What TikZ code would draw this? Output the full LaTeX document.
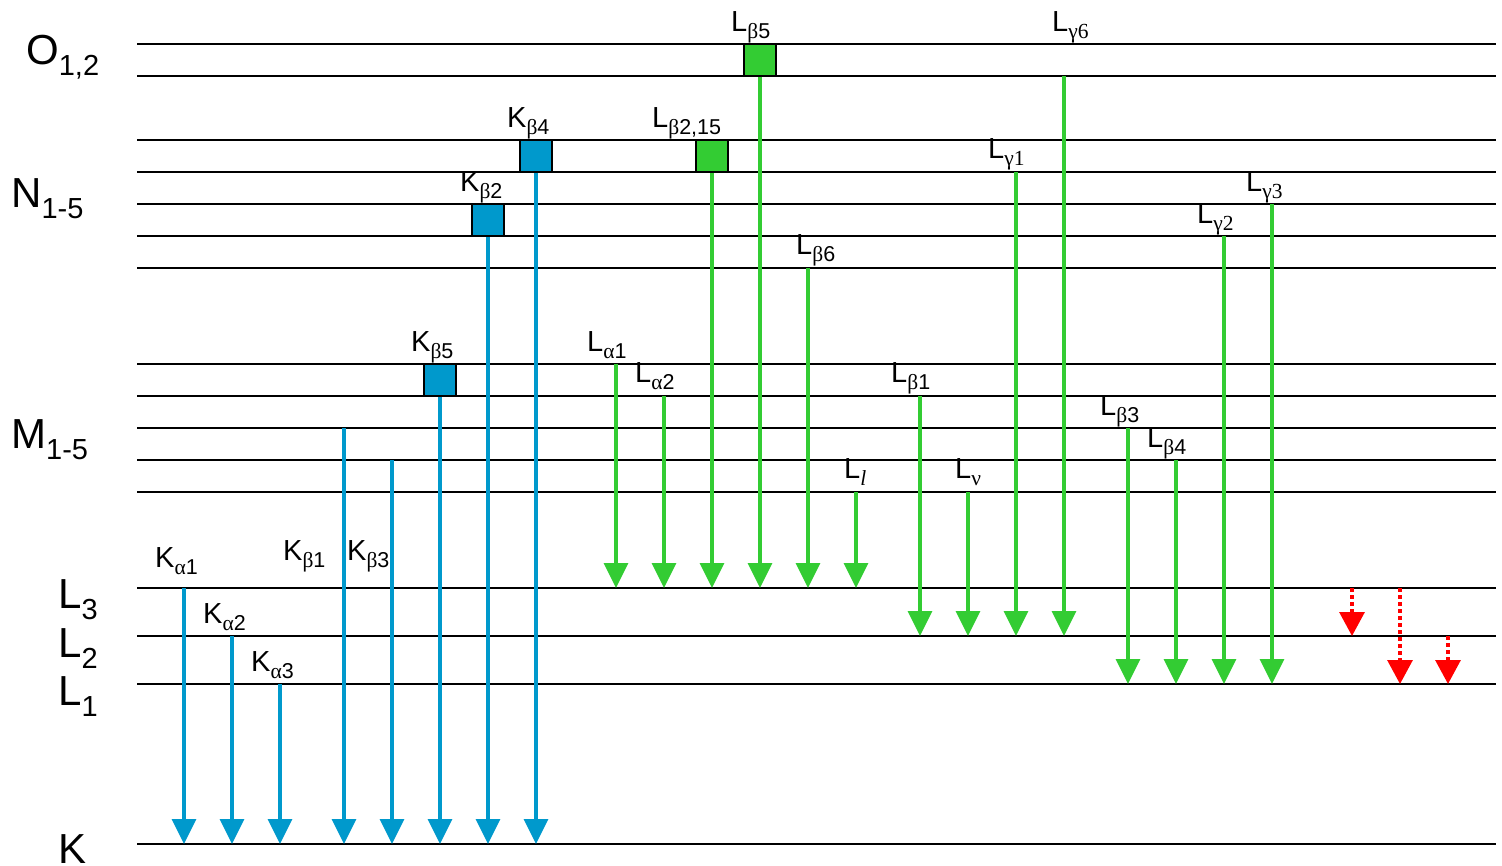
\documentclass[tikz,border=0pt]{standalone}
\usepackage{fontspec}
\setmainfont{Liberation Sans}
\newfontfamily\grk{Liberation Serif}
\usetikzlibrary{arrows.meta}
\definecolor{kblue}{RGB}{0,153,204}
\definecolor{lgreen}{RGB}{51,204,51}
\definecolor{xred}{RGB}{255,0,0}
\newcommand{\lvlab}[2]{{\fontsize{42}{42}\selectfont #1}\raisebox{-11pt}{\fontsize{29}{29}\selectfont #2}}
\newcommand{\xl}[2]{{\fontsize{29}{29}\selectfont #1}\raisebox{-7pt}{\fontsize{21.5}{21.5}\selectfont #2}}
\tikzset{
  level/.style={line width=2.8pt, black},
  lvtext/.style={anchor=base west, inner sep=0pt},
  lab/.style={anchor=base west, inner sep=0pt},
  sq/.style={draw=black, line width=1.8pt, minimum size=32pt, inner sep=0pt},
  karrow/.style={kblue, line width=3.4pt, -{Triangle[width=24pt,length=25pt]}},
  larrow/.style={lgreen, line width=3.4pt, -{Triangle[width=24pt,length=25pt]}},
  rarrow/.style={xred, line width=3.2pt, dash pattern=on 4pt off 3pt, -{Triangle[width=25pt,length=24pt]}},
}
\begin{document}
\begin{tikzpicture}[x=1pt,y=-1pt]
\useasboundingbox (0,0) rectangle (1502,866);
% energy levels
\foreach \yy in {44,76,140,172,204,236,268,364,396,428,460,492,588,636,684,844}
  \draw[level] (137,\yy) -- (1496,\yy);
% level labels
\node[lvtext] (tO) at (26,65) {\lvlab{O}{1,2}};
\node[lvtext] (tN) at (11,208) {\lvlab{N}{1-5}};
\node[lvtext] (tM) at (11,448) {\lvlab{M}{1-5}};
\node[lvtext] (tL3) at (58,608) {\lvlab{L}{3}};
\node[lvtext] (tL2) at (58,657) {\lvlab{L}{2}};
\node[lvtext] (tL1) at (58,705) {\lvlab{L}{1}};
\node[lvtext] (tK) at (58,863) {{\fontsize{42}{42}\selectfont K}};
% squares
\node[sq, fill=kblue] (bk5) at (440,380) {};
\node[sq, fill=kblue] (bk2) at (488,220) {};
\node[sq, fill=kblue] (bk4) at (536,156) {};
\node[sq, fill=lgreen] (bl215) at (712,156) {};
\node[sq, fill=lgreen] (bl5) at (760,60) {};
% coordinates: starts
\coordinate (ka1s) at (184,588);
\coordinate (ka2s) at (232,636);
\coordinate (ka3s) at (280,684);
\coordinate (kb1s) at (344,428);
\coordinate (kb3s) at (392,460);
\coordinate (la1s) at (616,364);
\coordinate (la2s) at (664,396);
\coordinate (lb6s) at (808,268);
\coordinate (lls) at (856,492);
\coordinate (lb1s) at (920,396);
\coordinate (lns) at (968,492);
\coordinate (lg1s) at (1016,172);
\coordinate (lg6s) at (1064,76);
\coordinate (lb3s) at (1128,428);
\coordinate (lb4s) at (1176,460);
\coordinate (lg2s) at (1224,236);
\coordinate (lg3s) at (1272,204);
\coordinate (r1s) at (1352,588);
\coordinate (r2s) at (1400,588);
\coordinate (r3s) at (1448,636);
% coordinates: ends
\coordinate (ka1e) at (184,844);
\coordinate (ka2e) at (232,844);
\coordinate (ka3e) at (280,844);
\coordinate (kb1e) at (344,844);
\coordinate (kb3e) at (392,844);
\coordinate (kb5e) at (440,844);
\coordinate (kb2e) at (488,844);
\coordinate (kb4e) at (536,844);
\coordinate (la1e) at (616,588);
\coordinate (la2e) at (664,588);
\coordinate (lb215e) at (712,588);
\coordinate (lb5e) at (760,588);
\coordinate (lb6e) at (808,588);
\coordinate (lle) at (856,588);
\coordinate (lb1e) at (920,636);
\coordinate (lne) at (968,636);
\coordinate (lg1e) at (1016,636);
\coordinate (lg6e) at (1064,636);
\coordinate (lb3e) at (1128,684);
\coordinate (lb4e) at (1176,684);
\coordinate (lg2e) at (1224,684);
\coordinate (lg3e) at (1272,684);
\coordinate (r1e) at (1352,636);
\coordinate (r2e) at (1400,684);
\coordinate (r3e) at (1448,684);
% K arrows
\draw[karrow] (ka1s) -- (ka1e);
\draw[karrow] (ka2s) -- (ka2e);
\draw[karrow] (ka3s) -- (ka3e);
\draw[karrow] (kb1s) -- (kb1e);
\draw[karrow] (kb3s) -- (kb3e);
\draw[karrow] (bk5.south) -- (kb5e);
\draw[karrow] (bk2.south) -- (kb2e);
\draw[karrow] (bk4.south) -- (kb4e);
% L arrows
\draw[larrow] (la1s) -- (la1e);
\draw[larrow] (la2s) -- (la2e);
\draw[larrow] (bl215.south) -- (lb215e);
\draw[larrow] (bl5.south) -- (lb5e);
\draw[larrow] (lb6s) -- (lb6e);
\draw[larrow] (lls) -- (lle);
\draw[larrow] (lb1s) -- (lb1e);
\draw[larrow] (lns) -- (lne);
\draw[larrow] (lg1s) -- (lg1e);
\draw[larrow] (lg6s) -- (lg6e);
\draw[larrow] (lb3s) -- (lb3e);
\draw[larrow] (lb4s) -- (lb4e);
\draw[larrow] (lg2s) -- (lg2e);
\draw[larrow] (lg3s) -- (lg3e);
% red dotted arrows
\draw[rarrow] (r1s) -- (r1e);
\draw[rarrow] (r2s) -- (r2e);
\draw[rarrow] (r3s) -- (r3e);
% labels
\node[lab] (tka1) at (155,567) {\xl{K}{{\grk α}1}};
\node[lab] (tka2) at (203,623) {\xl{K}{{\grk α}2}};
\node[lab] (tka3) at (251,671) {\xl{K}{{\grk α}3}};
\node[lab] (tkb1) at (283,560) {\xl{K}{{\grk β}1}};
\node[lab] (tkb3) at (347,560) {\xl{K}{{\grk β}3}};
\node[lab] (tkb5) at (411,352) {\xl{K}{{\grk β}5}};
\node[lab] (tkb2) at (460,192) {\xl{K}{{\grk β}2}};
\node[lab] (tkb4) at (507,128) {\xl{K}{{\grk β}4}};
\node[lab] (tlb215) at (652,128) {\xl{L}{{\grk β}2,15}};
\node[lab] (tlb5) at (731,32) {\xl{L}{{\grk β}5}};
\node[lab] (tlb6) at (796,255) {\xl{L}{{\grk β}6}};
\node[lab] (tlg6) at (1052,32) {\xl{L}{{\grk γ6}}};
\node[lab] (tlg1) at (988,159) {\xl{L}{{\grk γ1}}};
\node[lab] (tlg3) at (1246,192) {\xl{L}{{\grk γ3}}};
\node[lab] (tlg2) at (1197,224) {\xl{L}{{\grk γ2}}};
\node[lab] (tla1) at (587,352) {\xl{L}{{\grk α}1}};
\node[lab] (tla2) at (635,383) {\xl{L}{{\grk α}2}};
\node[lab] (tlb1) at (891,383) {\xl{L}{{\grk β}1}};
\node[lab] (tll) at (844,478) {\xl{L}{{\grk\itshape l}}};
\node[lab] (tln) at (955,478) {\xl{L}{{\grk ν}}};
\node[lab] (tlb3) at (1100,415) {\xl{L}{{\grk β}3}};
\node[lab] (tlb4) at (1147,447) {\xl{L}{{\grk β}4}};
\end{tikzpicture}
\end{document}
